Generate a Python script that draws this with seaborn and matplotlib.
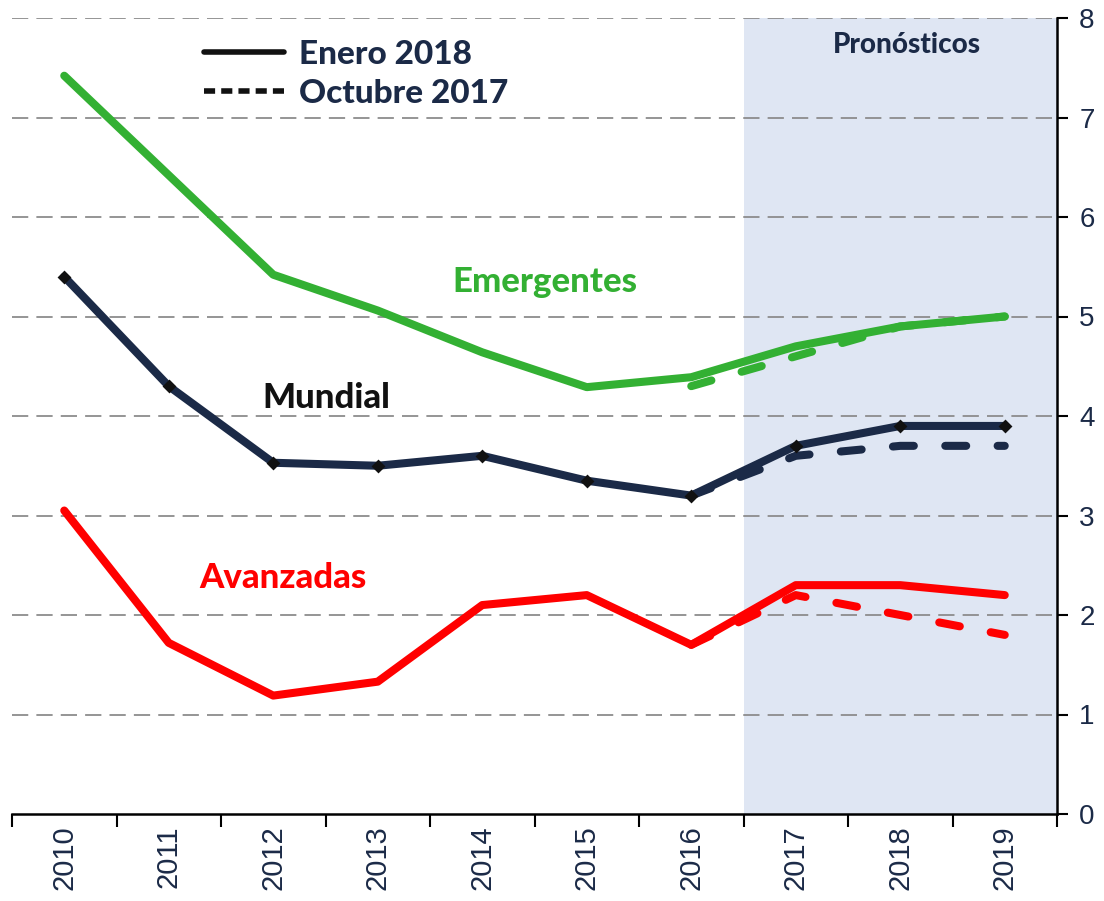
import matplotlib
matplotlib.use("Agg")
import matplotlib.pyplot as plt
import seaborn as sns
import pandas as pd
import numpy as np
from matplotlib.lines import Line2D

years = ["2010", "2011", "2012", "2013", "2014", "2015", "2016", "2017", "2018", "2019"]
emergentes_ene = [7.42, 6.42, 5.42, 5.06, 4.64, 4.29, 4.39, 4.7, 4.9, 5.0]
mundial_ene = [5.4, 4.3, 3.53, 3.5, 3.6, 3.35, 3.2, 3.7, 3.9, 3.9]
avanzadas_ene = [3.05, 1.72, 1.19, 1.33, 2.1, 2.2, 1.7, 2.3, 2.3, 2.2]
oct_years = ["2016", "2017", "2018", "2019"]
emergentes_oct = [4.3, 4.6, 4.9, 5.0]
mundial_oct = [3.2, 3.6, 3.7, 3.7]
avanzadas_oct = [1.7, 2.2, 2.0, 1.8]

GREEN = "#33B033"
NAVY = "#1B2A47"
RED = "#FF0000"

sns.set_style("white")
plt.rcParams["font.family"] = ["Liberation Sans", "DejaVu Sans"]

fig = plt.figure(figsize=(11.04, 9.01), dpi=100)
ax = fig.add_axes([12/1104, (901-814)/901, (1057-12)/1104, (814-18)/901])

xi = {y: i for i, y in enumerate(years)}

# shaded forecast region
ax.axvspan(6.5, 9.5, color="#DFE6F3", zorder=0, lw=0)

# gridlines
for v in range(1, 9):
    ax.axhline(v, color="#8C8C8C", lw=1.3, ls=(0, (9, 4.5)), zorder=1)

lw = 5.8
dash = (2.6, 3.9)

def draw(yrs, vals, color, dashed, marker=None, z=3):
    df = pd.DataFrame({"x": [xi[y] for y in yrs], "y": vals})
    kws = dict(color=color, lw=lw, ax=ax, zorder=z, legend=False)
    sns.lineplot(data=df, x="x", y="y", **kws)
    line = ax.lines[-1]
    if dashed:
        line.set_dashes(dash)
        line.set_dash_capstyle("round")
    else:
        line.set_solid_capstyle("round")
        line.set_solid_joinstyle("round")
    if marker:
        ax.scatter(df["x"], df["y"], marker="D", s=50, color="#111111", zorder=z + 1, lw=0)

draw(oct_years, emergentes_oct, GREEN, True, z=2)
draw(oct_years, mundial_oct, NAVY, True, z=2)
draw(oct_years, avanzadas_oct, RED, True, z=2)
draw(years, emergentes_ene, GREEN, False, z=3)
draw(years, mundial_ene, NAVY, False, marker=True, z=3)
draw(years, avanzadas_ene, RED, False, z=3)

ax.set_xlim(-0.5, 9.5)
ax.set_ylim(0, 8)
ax.set_xlabel("")
ax.set_ylabel("")

# x ticks: boundaries as major ticks, labels at centers
ax.set_xticks(np.arange(-0.5, 10, 1.0))
ax.set_xticklabels([])
ax.set_xticks(np.arange(0, 10), minor=True)
ax.set_xticklabels(years, minor=True, rotation=90, fontsize=21, color=NAVY)
ax.tick_params(axis="x", which="major", direction="out", length=9, width=1.5, color="black", bottom=True)
ax.tick_params(axis="x", which="minor", length=0, pad=8)

ax.yaxis.tick_right()
ax.set_yticks(range(0, 9))
ax.set_yticklabels([str(v) for v in range(0, 9)], fontsize=20, color=NAVY)
ax.tick_params(axis="y", direction="out", length=8, width=1.5, color="black", right=True, left=False, pad=8)

for s in ["top", "left"]:
    ax.spines[s].set_visible(False)
for s in ["bottom", "right"]:
    ax.spines[s].set_visible(True)
    ax.spines[s].set_color("black")
    ax.spines[s].set_linewidth(1.8)

bold = dict(fontweight="black", family=["Lato", "DejaVu Sans"])
ax.text(4.6, 5.35, "Emergentes", color=GREEN, fontsize=25, ha="center", va="center", **bold)
ax.text(2.51, 4.18, "Mundial", color="#111111", fontsize=25, ha="center", va="center", **bold)
ax.text(2.09, 2.37, "Avanzadas", color=RED, fontsize=25, ha="center", va="center", **bold)
ax.text(8.06, 7.73, "Pronósticos", color=NAVY, fontsize=20, ha="center", va="center", **bold)

handles = [Line2D([0], [0], color="#111111", lw=4),
           Line2D([0], [0], color="#111111", lw=4, ls=(0, (2.0, 1.1)))]
leg = ax.legend(handles, ["Enero 2018", "Octubre 2017"], loc="upper left",
                bbox_to_anchor=(0.155, 1.01), frameon=False, handlelength=2.4,
                handletextpad=0.45, labelspacing=0.3,
                prop={"family": ["Lato", "DejaVu Sans"], "weight": "black", "size": 24})
for t in leg.get_texts():
    t.set_color(NAVY)

fig.savefig("out.png", dpi=100)
